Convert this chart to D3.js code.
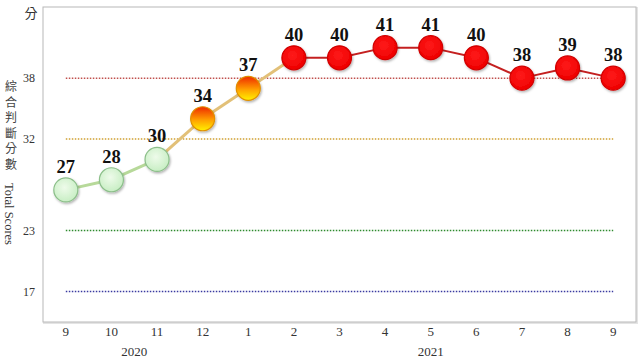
<!DOCTYPE html>
<html><head><meta charset="utf-8">
<script src="https://cdn.jsdelivr.net/npm/d3@7"></script>
<style>body{margin:0;background:#fff}</style>
</head><body>
<svg id="c" width="640" height="360"></svg>
<script>
const months = ["9","10","11","12","1","2","3","4","5","6","7","8","9"];
const scores = [27,28,30,34,37,40,40,41,41,40,38,39,38];
const lights = ["blue","blue","blue","yellowred","yellowred","red","red","red","red","red","red","red","red"];
const yTicks = [17,23,32,38];
const refColors = ["#3a3aa0","#2e8b2e","#d0a030","#c0504d"];
const years = [{label:"2020", from:0, to:3},{label:"2021", from:4, to:12}];

const svg = d3.select("#c");
const L=43,R=636,T=7,B=322;
const x = d3.scaleBand().domain(d3.range(months.length)).range([L,R]);
const y = d3.scaleLinear().domain([14,45]).range([B,T]);
const cx = i => x(i)+x.bandwidth()/2;

const defs = svg.append("defs");
const gGreen = defs.append("radialGradient").attr("id","gGreen").attr("cx","45%").attr("cy","40%").attr("r","60%");
gGreen.append("stop").attr("offset","0%").attr("stop-color","#eefbea");
gGreen.append("stop").attr("offset","100%").attr("stop-color","#c8eec4");
const gOr = defs.append("linearGradient").attr("id","gOr").attr("x1",0).attr("y1",0).attr("x2",0).attr("y2",1);
gOr.append("stop").attr("offset","0%").attr("stop-color","#ee2a00");
gOr.append("stop").attr("offset","55%").attr("stop-color","#ffa000");
gOr.append("stop").attr("offset","100%").attr("stop-color","#fff200");
const gRed = defs.append("radialGradient").attr("id","gRed").attr("cx","45%").attr("cy","40%").attr("r","60%");
gRed.append("stop").attr("offset","0%").attr("stop-color","#ff1a1a");
gRed.append("stop").attr("offset","100%").attr("stop-color","#ee0000");
const flt = defs.append("filter").attr("id","sh").attr("x","-30%").attr("y","-30%").attr("width","160%").attr("height","160%");
flt.append("feDropShadow").attr("dx",1).attr("dy",1.5).attr("stdDeviation",1.2).attr("flood-color","#000").attr("flood-opacity",0.3);

// frame
svg.append("rect").attr("x",L+1).attr("y",T+1).attr("width",R-L).attr("height",B-T).attr("fill","none").attr("stroke","#e4e4e4").attr("stroke-width",2);
svg.append("rect").attr("x",L).attr("y",T).attr("width",R-L).attr("height",B-T).attr("fill","#fff").attr("stroke","#b8b8b8").attr("stroke-width",1);

// reference lines
yTicks.forEach((t,i)=>{
  svg.append("line").attr("x1",cx(0)).attr("x2",cx(months.length-1)).attr("y1",y(t)).attr("y2",y(t))
    .attr("stroke",refColors[i]).attr("stroke-width",1.5).attr("stroke-dasharray","1.5,1.5");
});

// y axis labels
const yAxis = d3.axisLeft(y).tickValues(yTicks).tickSize(0).tickPadding(0);
const ya = svg.append("g").attr("transform",`translate(${L-8},0)`).call(yAxis);
ya.select(".domain").remove();
ya.selectAll("text").attr("font-family","Liberation Serif").attr("font-size",12).attr("fill","#333");

// x axis labels
const xAxis = d3.axisBottom(x).tickFormat(i=>months[i]).tickSize(0).tickPadding(0);
const xa = svg.append("g").attr("transform",`translate(0,${B+5})`).call(xAxis);
xa.select(".domain").remove();
xa.selectAll("text").attr("font-family","Liberation Serif").attr("font-size",13).attr("fill","#333");

years.forEach(yr=>{
  svg.append("text").attr("x",(cx(yr.from)+cx(yr.to))/2).attr("y",356).attr("text-anchor","middle")
    .attr("font-family","Liberation Serif").attr("font-size",13).attr("fill","#333").text(yr.label);
});

// y title
svg.append("text").attr("x",31).attr("y",18).attr("text-anchor","middle").attr("font-family","Noto Sans CJK TC").attr("font-size",13).attr("fill","#333").text("分");
const zh = "綜合判斷分數".split("");
zh.forEach((ch,i)=>{
  svg.append("text").attr("x",11).attr("y",88+i*15.5).attr("text-anchor","middle").attr("dominant-baseline","middle")
    .attr("font-family","Noto Sans CJK TC").attr("font-size",12).attr("fill","#444").text(ch);
});
svg.append("text").attr("transform","translate(5,214) rotate(90)").attr("text-anchor","middle")
  .attr("font-family","Liberation Serif").attr("font-size",12.5).attr("fill","#333").text("Total Scores");

// segments
const segColor = (a,b)=>{
  if(lights[a]==="blue" && lights[b]==="blue") return "#b7d99a";
  if(lights[a]==="red" && lights[b]==="red") return "#c42020";
  return "#e2c078";
};
for(let i=0;i<scores.length-1;i++){
  svg.append("line").attr("x1",cx(i)).attr("y1",y(scores[i])).attr("x2",cx(i+1)).attr("y2",y(scores[i+1]))
    .attr("stroke",segColor(i,i+1)).attr("stroke-width",lights[i]==="red"&&lights[i+1]==="red"?2:3);
}

// points
const fillFor = l => l==="blue"?"url(#gGreen)":l==="red"?"url(#gRed)":"url(#gOr)";
const strokeFor = l => l==="blue"?"#8cbf8a":l==="red"?"#d00000":"#e09000";
svg.selectAll("circle.pt").data(scores).enter().append("circle").attr("class","pt")
  .attr("cx",(d,i)=>cx(i)).attr("cy",d=>y(d)).attr("r",12)
  .attr("fill",(d,i)=>fillFor(lights[i])).attr("stroke",(d,i)=>strokeFor(lights[i])).attr("stroke-width",1.2)
  .attr("filter","url(#sh)");

// value labels
svg.selectAll("text.val").data(scores).enter().append("text").attr("class","val")
  .attr("x",(d,i)=>cx(i)).attr("y",d=>y(d)-17).attr("text-anchor","middle")
  .attr("font-family","Liberation Serif").attr("font-weight","bold").attr("font-size",18.5).attr("fill","#111")
  .text(d=>d);
</script>
</body></html>
